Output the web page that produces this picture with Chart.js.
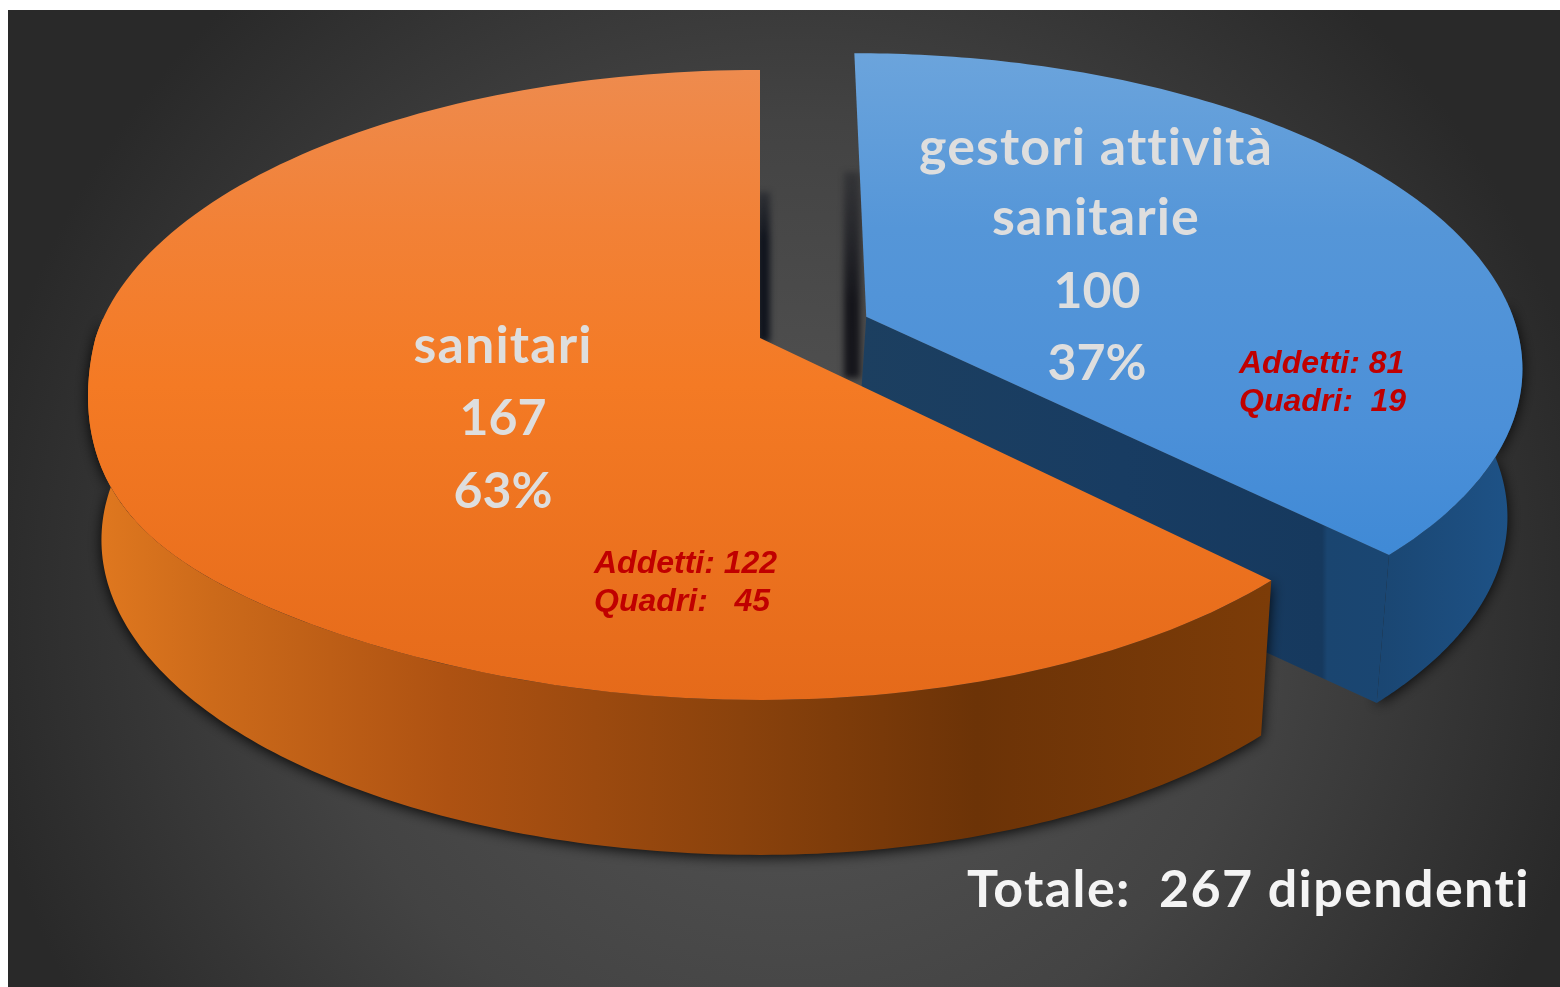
<!DOCTYPE html>
<html><head><meta charset="utf-8">
<style>html,body{margin:0;padding:0;background:#fff;overflow:hidden}#w{position:relative;width:1560px;height:987px}canvas{filter:blur(0.7px)}</style>
<script src="https://cdn.jsdelivr.net/npm/chart.js@4"></script>
</head><body><div id="w"><canvas id="c"></canvas></div>
<script>
const categories = ["gestori attività sanitarie", "sanitari"];
const values = [100, 167];
const sliceColors = ["#4f93d8", "#f57a24"];
const explode = [62, 0];
const blueLabel = ["gestori attività", "sanitarie"];
const blueFigures = ["100", "37%"];
const orangeLabel = ["sanitari"];
const orangeFigures = ["167", "63%"];
const blueNote = ["Addetti: 81", "Quadri:  19"];
const orangeNote = ["Addetti: 122", "Quadri:   45"];
const totalLabel = "Totale:  267 dipendenti";

const K = -0.149, AX = 664.5, BY = 257.6, CX = 760, CY = 338, SHRINK = 0.98;
function proj(x, y, depth, slice) {
  const w = 1 + K * y;
  let px = AX * x / w, py = (CY + BY * y) / w;
  if (slice === 1 && px > 0) px *= 0.971;
  if (slice === 1 && !depth && x < 0 && y > 0) py += 80 * Math.pow(-x, 5) * y;
  let sx = CX + px * (depth ? SHRINK : 1);
  if (slice === 0) { sx = 1520 - (1520 - sx) * 0.982; py -= 3; }
  return [sx, py + depth];
}
function rim(a0, a1, ox, oy, depth, slice) {
  const pts = [], n = 160;
  for (let i = 0; i <= n; i++) {
    const a = a0 + (a1 - a0) * i / n;
    pts.push(proj(ox + Math.cos(a), oy + Math.sin(a), depth, slice));
  }
  return pts;
}
function path(ctx, pts) {
  ctx.beginPath();
  pts.forEach((p, i) => i ? ctx.lineTo(p[0], p[1]) : ctx.moveTo(p[0], p[1]));
  ctx.closePath();
}
function grad(ctx, x0, y0, x1, y1, stops) {
  const g = ctx.createLinearGradient(x0, y0, x1, y1);
  stops.forEach(s => g.addColorStop(s[0], s[1]));
  return g;
}
function lines(ctx, arr, x, ys) { arr.forEach((t, i) => ctx.fillText(t, x, ys[i])); }

const pie3d = {
  id: "pie3d",
  beforeDatasetsDraw(chart) {
    const ctx = chart.ctx, arcs = chart.getDatasetMeta(0).data;
    ctx.save();
    const W = chart.width;
    const bg = ctx.createRadialGradient(790, 600, 60, 790, 600, 820);
    bg.addColorStop(0, "#555555"); bg.addColorStop(0.55, "#434343"); bg.addColorStop(1, "#292929");
    ctx.fillStyle = bg;
    ctx.fillRect(8, 10, W - 8, 977);

    const geo = arcs.map(a => {
      const mid = (a.startAngle + a.endAngle) / 2, d = (a.options.offset || 0) / 400;
      return { s: a.startAngle, e: a.endAngle, ox: d * Math.cos(mid), oy: d * Math.sin(mid) };
    });

    ctx.filter = "blur(3px)";
    ctx.fillStyle = grad(ctx, 0, 172, 0, 300, [[0, "rgba(20,22,30,0.35)"], [1, "rgba(16,16,22,0.9)"]]);
    ctx.fillRect(844, 172, 16, 206);
    ctx.fillStyle = grad(ctx, 0, 192, 0, 240, [[0, "rgba(12,16,26,0.4)"], [1, "rgba(10,14,24,0.9)"]]);
    ctx.fillRect(757, 192, 13, 150);
    ctx.filter = "none";

    // blue slice
    const b = geo[0], bh = 148;
    const bTop = rim(b.s, b.e, b.ox, b.oy, 0, 0);
    const bApex = proj(b.ox, b.oy, 0, 0), bApexLow = proj(b.ox, b.oy, bh, 0);
    bApexLow[0] -= 8;
    const bCorner = bTop[bTop.length - 1];
    const bOuter = rim(-0.05, b.e, b.ox, b.oy, 0, 0).concat(rim(-0.05, b.e, b.ox, b.oy, bh, 0).reverse());
    ctx.shadowColor = "rgba(0,0,0,0.85)"; ctx.shadowBlur = 14; ctx.shadowOffsetY = 2;
    path(ctx, bOuter);
    ctx.fillStyle = grad(ctx, 1380, 0, 1520, 0, [[0, "#1a4672"], [1, "#1e5388"]]);
    ctx.fill();
    ctx.shadowColor = "transparent"; ctx.shadowBlur = 0; ctx.shadowOffsetY = 0;
    path(ctx, [bApex, bCorner, proj(b.ox + Math.cos(b.e), b.oy + Math.sin(b.e), bh, 0), bApexLow]);
    ctx.fillStyle = grad(ctx, 860, 0, 1385, 0, [[0, "#1c3f60"], [0.5, "#183c62"], [0.88, "#16395e"], [0.89, "#1a4570"], [1, "#1a4672"]]);
    ctx.fill();
    path(ctx, [bApex].concat(bTop));
    ctx.fillStyle = grad(ctx, 0, 55, 0, 550, [[0, "#6ba4dc"], [0.35, "#5596d8"], [0.75, "#4c90d8"], [1, "#408ad6"]]);
    ctx.fill();

    // orange slice
    const o = geo[1], oh = 155;
    const oTop = rim(o.s, o.e, o.ox, o.oy, 0, 1);
    const aLeft = Math.PI * 1.02;
    const oOuter = rim(o.s, aLeft, o.ox, o.oy, 0, 1).concat(rim(o.s, aLeft, o.ox, o.oy, oh, 1).reverse());
    ctx.shadowColor = "rgba(0,0,0,0.9)"; ctx.shadowBlur = 14; ctx.shadowOffsetY = 2;
    path(ctx, oOuter);
    ctx.fillStyle = grad(ctx, 95, 0, 1270, 0, [[0, "#e0781f"], [0.1, "#cc6a1a"], [0.3, "#ae5212"], [0.55, "#8a420c"], [0.75, "#6c3307"], [1, "#7c3c08"]]);
    ctx.fill();
    ctx.shadowColor = "transparent"; ctx.shadowBlur = 0; ctx.shadowOffsetY = 0;
    path(ctx, [proj(o.ox, o.oy, 0, 1)].concat(oTop));
    ctx.fillStyle = grad(ctx, 0, 70, 0, 700, [[0, "#ee8b4e"], [0.25, "#f28136"], [0.5, "#f47a24"], [1, "#e56a1a"]]);
    ctx.fill();

    // texts
    ctx.textBaseline = "alphabetic";
    ctx.textAlign = "center";
    ctx.fillStyle = "#dedede";
    ctx.font = "bold 52px Lato";
    ctx.letterSpacing = "1.1px";
    lines(ctx, blueLabel, 1096, [165, 235]);
    lines(ctx, orangeLabel, 503, [363]);
    ctx.letterSpacing = "0px";
    ctx.font = "bold 50px Lato";
    lines(ctx, blueFigures, 1097, [308, 380]);
    lines(ctx, orangeFigures, 503, [435, 508]);
    ctx.textAlign = "left";
    ctx.font = "italic bold 32px 'Liberation Sans'";
    ctx.fillStyle = "#c00000";
    lines(ctx, blueNote, 1239, [373, 411]);
    lines(ctx, orangeNote, 594, [573, 611]);
    ctx.font = "bold 52px Lato";
    ctx.letterSpacing = "1.4px";
    ctx.fillStyle = "#f4f4f4";
    ctx.fillText(totalLabel, 967, 907);
    ctx.restore();
    return false;
  }
};

new Chart(document.getElementById("c"), {
  type: "pie",
  data: { labels: categories, datasets: [{ data: values, backgroundColor: sliceColors, offset: explode, borderWidth: 0 }] },
  options: {
    responsive: true, maintainAspectRatio: false, animation: false,
    layout: { padding: 0 },
    plugins: { legend: { display: false }, tooltip: { enabled: false } }
  },
  plugins: [pie3d]
});
</script></body></html>
